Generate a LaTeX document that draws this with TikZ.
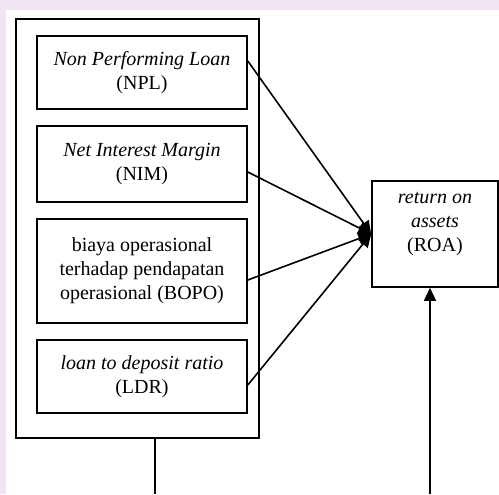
\documentclass[tikz,border=0pt]{standalone}
\usepackage{fontspec}
\setmainfont{Liberation Serif}
\usetikzlibrary{arrows.meta}
\begin{document}
\begin{tikzpicture}[-,line width=0.8pt,x=0.5pt,y=-0.5pt]
\tikzstyle{var}=[draw,minimum width=105pt,inner sep=0pt,align=center]
\tikzstyle{arr}=[-{Triangle[width=6pt,length=6.5pt]}]
\useasboundingbox (0,0) rectangle (499,494);
\fill[violet!10] (0,0) rectangle (499,494);
\fill[white] (6,10) rectangle (499,494);
% independent variables
\node[draw,minimum width=121.5pt,minimum height=209.5pt] (outer) at (137.5,228.5) {};
\node[var,minimum height=36.5pt] (npl) at (142,72.5) {\textit{Non Performing Loan}\\(NPL)};
\node[var,minimum height=38pt] (nim) at (142,164) {\textit{Net Interest Margin}\\(NIM)};
\node[var,minimum height=52pt] (bopo) at (142,271) {biaya operasional\\terhadap pendapatan\\operasional (BOPO)};
\node[var,minimum height=36.5pt] (ldr) at (142,376.5) {\textit{loan to deposit ratio}\\(LDR)};
% dependent variable
\node[var,minimum width=63pt,minimum height=53pt] (roa) at (435,234) {\textit{return on}\\\textit{assets}\\(ROA)\\\mbox{}};
\draw[arr] ([yshift=5.75pt]npl.east) -- (roa.west);
\draw[arr] ([yshift=-4pt]nim.east) -- (roa.west);
\draw[arr] ([yshift=-4.5pt]bopo.east) -- (roa.west);
\draw[arr] ([yshift=-4.25pt]ldr.east) -- (roa.west);
\coordinate (b1) at (155,494);
\coordinate (b2) at (430,494);
\draw (outer.south -| b1) -- (b1);
\draw[arr] (b2) -- (b2 |- roa.south);
\end{tikzpicture}
\end{document}
